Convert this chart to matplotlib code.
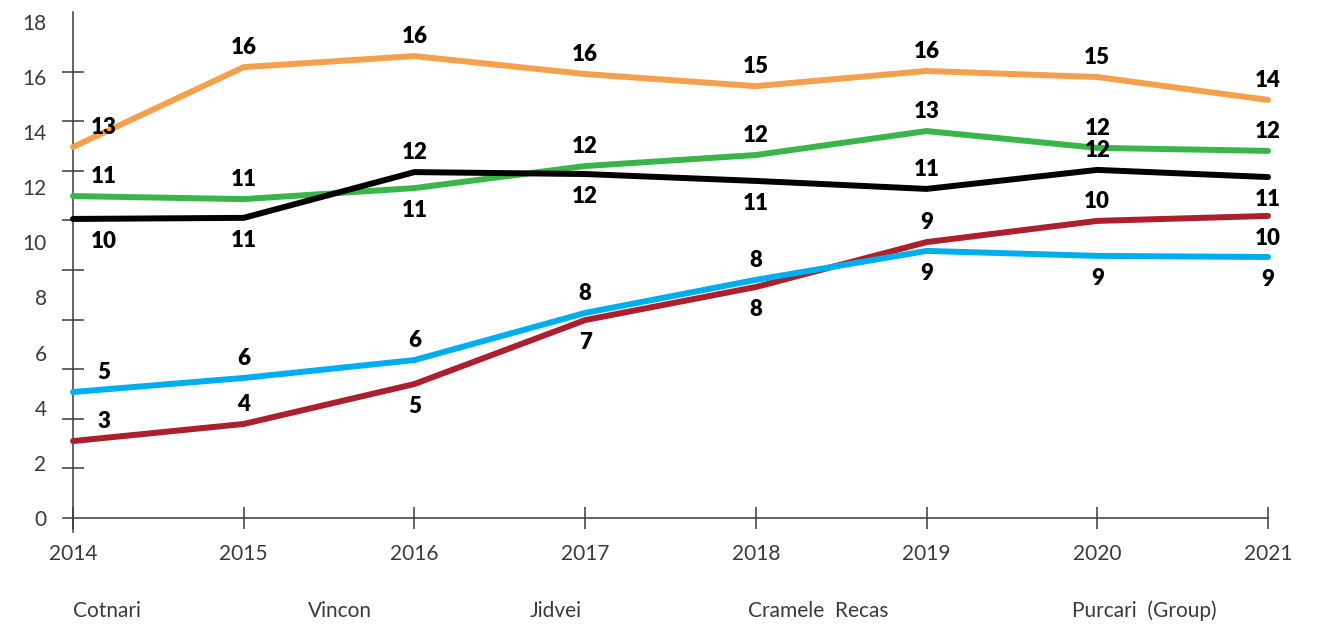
import numpy as np
import matplotlib
matplotlib.use("Agg")
import matplotlib.pyplot as plt

# ---------------- data ----------------
years = [2014, 2015, 2016, 2017, 2018, 2019, 2020, 2021]
companies = ["Cotnari", "Vincon", "Jidvei", "Cramele  Recas", "Purcari  (Group)"]

orange_vals = [13.46, 16.36, 16.76, 16.11, 15.67, 16.22, 16.00, 15.17]
green_vals = [11.68, 11.57, 11.97, 12.77, 13.17, 14.04, 13.43, 13.32]
black_vals = [10.85, 10.89, 12.55, 12.48, 12.23, 11.94, 12.63, 12.37]
red_vals = [2.79, 3.41, 4.86, 7.18, 8.38, 10.01, 10.78, 10.96]
blue_vals = [4.57, 5.08, 5.73, 7.44, 8.64, 9.69, 9.51, 9.47]

orange_labels = [13, 16, 16, 16, 15, 16, 15, 14]
green_labels = [11, 11, 11, 12, 12, 13, 12, 12]
black_labels = [10, 11, 12, 12, 11, 11, 12, 11]
red_labels = [3, 4, 5, 7, 8, 9, 10, 10]
blue_labels = [5, 6, 6, 8, 8, 9, 9, 9]

y_tick_labels = [0, 2, 4, 6, 8, 10, 12, 14, 16, 18]

# ---------------- style ----------------
series = [
    (orange_vals, orange_labels, "#F4A04C", [1, 1, 1, 1, 1, 1, 1, 1]),
    (green_vals, green_labels, "#3AB54A", [1, 1, -1, 1, 1, 1, 1, 1]),
    (black_vals, black_labels, "#000000", [-1, -1, 1, -1, -1, 1, 1, -1]),
    (red_vals, red_labels, "#AC1F2D", [1, 1, -1, -1, -1, 1, 1, -1]),
    (blue_vals, blue_labels, "#00AEEF", [1, 1, 1, 1, 1, -1, -1, -1]),
]

FONT = ["Lato", "DejaVu Sans"]
plt.rcParams["font.family"] = FONT
axis_col = "#3a3a3a"

fig = plt.figure(figsize=(13.2, 6.32), dpi=100)
ax = fig.add_axes([63 / 1320, 100 / 632, (1268 - 63) / 1320, 520 / 632])

for vals, labs, col, sides in series:
    ax.plot(years, vals, color=col, lw=4.3, solid_capstyle="round",
            solid_joinstyle="round", clip_on=False, zorder=3)
    for i, (x, v, lab, s) in enumerate(zip(years, vals, labs, sides)):
        dx = 22 if i == 0 else 0
        dy = 14 if s > 0 else -16
        ax.annotate(str(lab), (x, v), xytext=(dx, dy), textcoords="offset points",
                    ha="center", va="center", fontsize=16, fontweight="heavy",
                    color="black", zorder=4)

ax.set_xlim(years[0] - 10 / 170.7, years[-1])
ax.set_ylim(-0.51, 18.36)

for s in ["top", "right"]:
    ax.spines[s].set_visible(False)
ax.spines["left"].set_position(("data", years[0]))
ax.spines["bottom"].set_position(("data", 0))
for s in ["left", "bottom"]:
    ax.spines[s].set_color(axis_col)
    ax.spines[s].set_linewidth(1.1)

ax.set_xticks(years)
ax.set_xticklabels([str(y) for y in years])
ax.tick_params(axis="x", direction="inout", length=16, width=1.1, color=axis_col,
               pad=11, labelsize=15, labelcolor=axis_col)

ax.set_yticks(y_tick_labels)
ax.set_yticklabels([str(v) for v in y_tick_labels])
ax.tick_params(axis="y", which="major", length=0, pad=19, labelsize=15,
               labelcolor=axis_col)
ax.set_yticks(np.linspace(0, 18, 11), minor=True)
ax.tick_params(axis="y", which="minor", direction="inout", length=16.5, width=1.1,
               color=axis_col)

name_x = [73, 308, 530, 748, 1072]
for name, xp in zip(companies, name_x):
    fig.text(xp / 1320, (632 - 611) / 632, name, ha="left", va="center",
             fontsize=15, color=axis_col)

fig.savefig("out.png", dpi=100)
